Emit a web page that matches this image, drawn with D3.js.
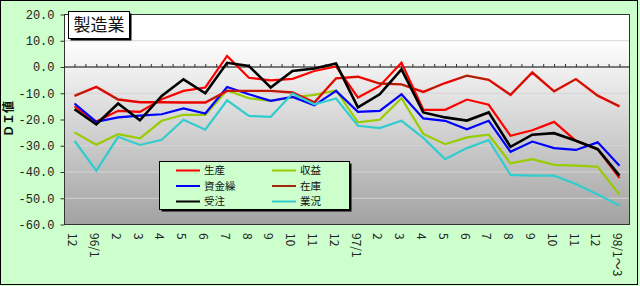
<!DOCTYPE html>
<html>
<head>
<meta charset="utf-8">
<script src="https://cdn.jsdelivr.net/npm/d3@7"></script>
<style>
  html, body { margin: 0; padding: 0; background: #CCFFCC; }
  svg { display: block; }
</style>
</head>
<body>
<svg id="chart" width="640" height="286"></svg>
<script>
const categories = ["12","96/1","2","3","4","5","6","7","8","9","10","11","12","97/1","2","3","4","5","6","7","8","9","10","11","12","98/1～3"];
const seisan   = [-15, -20.8, -16.7, -17.1, -12.3, -9.1, -7.8, 4.2, -4.1, -5.1, -4.5, -1.5, 0.2, -11.6, -7.2, 1.6, -16.3, -16.3, -12.4, -14.4, -26.2, -24.1, -20.9, -28.1, -31.3, -42.3];
const shueki   = [-24.9, -29.6, -25.6, -27.2, -20.5, -18.2, -18.2, -8.9, -11.9, -12.9, -11.6, -10.6, -8.9, -21.1, -20.1, -11.9, -25.5, -29.4, -26.8, -25.8, -36.7, -35.1, -37.3, -37.6, -38.0, -48.6];
const shikin   = [-13.9, -20.9, -19.2, -18.5, -18.0, -15.8, -17.7, -7.6, -10.4, -12.9, -11.4, -14.6, -9.1, -17.1, -16.7, -10.4, -19.6, -20.5, -23.7, -20.5, -32.3, -28.4, -30.9, -31.6, -28.7, -37.6];
const zaiko    = [-11.0, -7.6, -12.4, -13.4, -13.4, -13.5, -13.5, -9.1, -9.1, -9.1, -9.7, -13.5, -4.3, -3.7, -6.3, -6.6, -9.5, -6.1, -3.3, -4.9, -10.6, -2.1, -9.3, -4.6, -10.9, -15.0];
const juchu    = [-16.1, -21.8, -13.9, -20.3, -11.0, -4.7, -10.0, 1.6, 0.4, -7.8, -1.5, -0.6, 1.3, -15.4, -10.4, -0.9, -17.3, -19.2, -20.4, -17.3, -30.4, -25.8, -25.2, -28.1, -31.3, -41.4];
const gyokyo   = [-28.1, -39.5, -26.6, -29.7, -27.7, -20.1, -23.9, -12.7, -18.6, -19.0, -10.1, -14.2, -12.0, -22.4, -23.3, -20.5, -27.0, -35.1, -30.9, -27.8, -41.1, -41.4, -41.4, -44.6, -48.6, -52.8];
const yTicks   = [20, 10, 0, -10, -20, -30, -40, -50, -60];
const title    = "製造業";
const yTitle   = "ＤＩ値";

const series = [
  {name: "生産",   values: seisan, color: "#FF0000", width: 2.2},
  {name: "収益",   values: shueki, color: "#99CC00", width: 2.2},
  {name: "資金繰", values: shikin, color: "#0000FF", width: 2.2},
  {name: "在庫",   values: zaiko,  color: "#FF0000", width: 2.4, dotted: true},
  {name: "受注",   values: juchu,  color: "#000000", width: 2.6},
  {name: "業況",   values: gyokyo, color: "#33CCCC", width: 2.2}
];

const svg = d3.select("#chart");
const font = "'Noto Sans CJK JP', 'Noto Sans', sans-serif";
const plot = {left: 64.5, right: 629.5};

const x = d3.scaleLinear().domain([0, categories.length - 1]).range([74.5, 619.5]);
const y = d3.scaleLinear().domain([-60, 20]).range([224.5, 14.5]);

// outer border
svg.append("rect").attr("x", 0.5).attr("y", 0.5).attr("width", 637).attr("height", 284)
  .attr("fill", "#CCFFCC").attr("stroke", "#000").attr("stroke-width", 1);

// plot gradient
const defs = svg.append("defs");
const grad = defs.append("linearGradient").attr("id", "pg").attr("x1", 0).attr("y1", 0).attr("x2", 0).attr("y2", 1);
grad.append("stop").attr("offset", "0%").attr("stop-color", "#ffffff");
grad.append("stop").attr("offset", "12%").attr("stop-color", "#ffffff");
grad.append("stop").attr("offset", "30%").attr("stop-color", "#ececec");
grad.append("stop").attr("offset", "100%").attr("stop-color", "#a2a2a2");

svg.append("rect").attr("x", plot.left).attr("y", y(20)).attr("width", plot.right - plot.left)
  .attr("height", y(-60) - y(20)).attr("fill", "url(#pg)");

// gridlines
svg.append("g").selectAll("line").data(yTicks.filter(d => d !== 20 && d !== -60 && d !== 0)).join("line")
  .attr("x1", plot.left).attr("x2", plot.right)
  .attr("y1", d => y(d)).attr("y2", d => y(d))
  .attr("stroke", "#d4d4d4").attr("stroke-width", 1);

// plot border
svg.append("rect").attr("x", plot.left).attr("y", y(20)).attr("width", plot.right - plot.left)
  .attr("height", y(-60) - y(20)).attr("fill", "none").attr("stroke", "#333").attr("stroke-width", 1);

// zero line + ticks
svg.append("line").attr("x1", plot.left).attr("x2", plot.right).attr("y1", y(0)).attr("y2", y(0))
  .attr("stroke", "#000").attr("stroke-width", 1);
const xAxis = d3.axisTop(x).tickValues(d3.range(0, categories.length - 0.99, 0.5)).tickSize(3).tickFormat("");
const gx = svg.append("g").attr("transform", `translate(0,${y(0)})`).call(xAxis);
gx.select(".domain").remove();
gx.selectAll("line").attr("stroke", "#333");

// y axis
const yAxis = d3.axisLeft(y).tickValues(yTicks).tickSize(4).tickPadding(6)
  .tickFormat(d => d3.format(".1f")(d).replace("−", "-"));
const gy = svg.append("g").attr("transform", `translate(${plot.left},0)`).call(yAxis);
gy.select(".domain").remove();
gy.selectAll("line").attr("stroke", "#333");
gy.selectAll("text").attr("font-family", "'Liberation Mono', monospace").attr("font-size", 12).attr("fill", "#222");

// y title
svg.append("text").attr("transform", "translate(13,119) rotate(-90)")
  .attr("text-anchor", "middle").attr("font-family", font).attr("font-size", 12).attr("font-weight", "bold")
  .attr("fill", "#111").text(yTitle);

// x labels
svg.append("g").selectAll("text").data(categories).join("text")
  .attr("transform", (d, i) => `translate(${x(i) - 2},233) rotate(90)`)
  .attr("dy", "0.35em").attr("font-family", font).attr("font-size", 12).attr("fill", "#222")
  .text(d => d);

// lines
const line = d3.line().x((d, i) => x(i)).y(d => y(d));
const gl = svg.append("g");
series.forEach(s => {
  gl.append("path").attr("d", line(s.values)).attr("fill", "none")
    .attr("stroke", s.color).attr("stroke-width", s.width).attr("stroke-linejoin", "miter");
  if (s.dotted) {
    gl.append("path").attr("d", line(s.values)).attr("fill", "none")
      .attr("stroke", "#3a4a10").attr("stroke-width", 1).attr("stroke-dasharray", "1,1");
  }
});

// title box
svg.append("rect").attr("x", 70.5).attr("y", 13.5).attr("width", 61).attr("height", 27).attr("fill", "#000");
svg.append("rect").attr("x", 68.5).attr("y", 11.5).attr("width", 61).attr("height", 27)
  .attr("fill", "#fff").attr("stroke", "#000");
svg.append("text").attr("x", 99).attr("y", 25).attr("dy", "0.36em").attr("text-anchor", "middle")
  .attr("font-family", font).attr("font-size", 17).attr("fill", "#111").text(title);

// legend
const lg = svg.append("g");
lg.append("rect").attr("x", 161.5).attr("y", 163.5).attr("width", 190).attr("height", 48).attr("fill", "#000");
lg.append("rect").attr("x", 159.5).attr("y", 161.5).attr("width", 190).attr("height", 48)
  .attr("fill", "#CCFFCC").attr("stroke", "#000");
const rowsY = [170.5, 186, 201.5];
series.forEach((s, k) => {
  const col = k % 2, row = Math.floor(k / 2);
  const lx = col === 0 ? 176 : 272, tx = col === 0 ? 204 : 300;
  const yy = rowsY[row];
  lg.append("line").attr("x1", lx).attr("x2", lx + 24).attr("y1", yy).attr("y2", yy)
    .attr("stroke", s.color).attr("stroke-width", 2);
  if (s.dotted) {
    lg.append("line").attr("x1", lx).attr("x2", lx + 24).attr("y1", yy).attr("y2", yy)
      .attr("stroke", "#3a4a10").attr("stroke-width", 1).attr("stroke-dasharray", "1,1");
  }
  lg.append("text").attr("x", tx).attr("y", yy).attr("dy", "0.36em")
    .attr("font-family", font).attr("font-size", 10.5).attr("fill", "#111").text(s.name);
});
</script>
</body>
</html>
